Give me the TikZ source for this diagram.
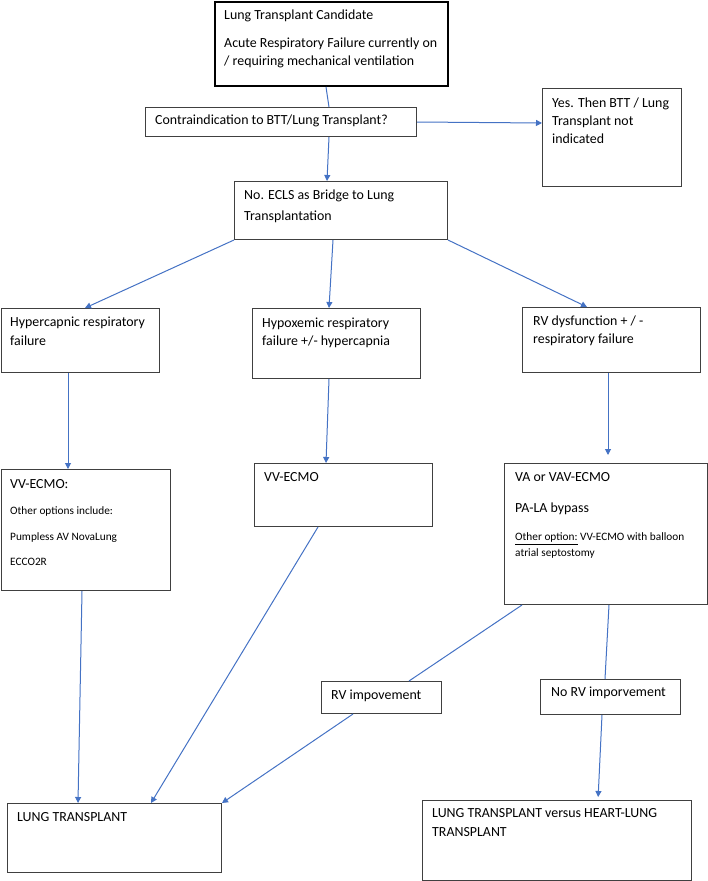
\documentclass[tikz,border=0pt]{standalone}
\usepackage{fontspec}
\setmainfont{Carlito}
\usetikzlibrary{arrows.meta}
\definecolor{arrblue}{HTML}{4472C4}
\definecolor{boxgray}{HTML}{404040}
\begin{document}
\begin{tikzpicture}[x=1pt,y=-1pt,
 box/.style={draw=boxgray, line width=1pt, anchor=north west, inner sep=0pt},
 topbox/.style={draw=black, line width=2pt, anchor=north west, inner sep=0pt},
 txt/.style={anchor=base west, inner sep=0pt, font=\fontsize{13.9}{18}\selectfont},
 sm/.style={anchor=base west, inner sep=0pt, font=\fontsize{11.3}{16}\selectfont},
 arr/.style={draw=arrblue, line width=1pt, -{Triangle[length=6pt,width=6pt]}},
 ln/.style={draw=arrblue, line width=1pt}]
\useasboundingbox (0,0) rectangle (708,881);
% boxes
\node[topbox, minimum width=233pt, minimum height=84pt] (top) at (214,1) {};
\node[box, minimum width=271pt, minimum height=29pt] (contra) at (145,107) {};
\node[box, minimum width=139pt, minimum height=98pt] (yes) at (542,88) {};
\node[box, minimum width=213pt, minimum height=58pt] (no) at (234,181) {};
\node[box, minimum width=158pt, minimum height=64pt] (hyper) at (1,308) {};
\node[box, minimum width=168pt, minimum height=70pt] (hypox) at (252,308) {};
\node[box, minimum width=178pt, minimum height=65pt] (rv) at (522,307) {};
\node[box, minimum width=169pt, minimum height=121pt] (vv) at (1,469) {};
\node[box, minimum width=178pt, minimum height=63pt] (vv2) at (254,463) {};
\node[box, minimum width=203pt, minimum height=141pt] (va) at (504,463) {};
\node[box, minimum width=120pt, minimum height=32pt] (rvimp) at (321,681) {};
\node[box, minimum width=140pt, minimum height=35pt] (norv) at (540,679) {};
\node[box, minimum width=214pt, minimum height=69pt] (lt) at (7,803) {};
\node[box, minimum width=269pt, minimum height=80pt] (lthl) at (422,800) {};
% texts
\node[txt] (t1a) at (224,19) {Lung Transplant Candidate};
\node[txt] (t1b) at (224,47.5) {Acute Respiratory Failure currently on};
\node[txt] (t1c) at (224,65.5) {/ requiring mechanical ventilation};
\node[txt] (t2) at (155,124.5) {Contraindication to BTT/Lung Transplant?};
\node[txt] (t3a) at (552,107.5) {Yes. Then BTT / Lung};
\node[txt] (t3b) at (552,125.5) {Transplant not};
\node[txt] (t3c) at (552,143.5) {indicated};
\node[txt] (t4a) at (244,199.5) {No. ECLS as Bridge to Lung};
\node[txt] (t4b) at (244,220.5) {Transplantation};
\node[txt] (t5a) at (10,326.5) {Hypercapnic respiratory};
\node[txt] (t5b) at (10,345.5) {failure};
\node[txt] (t6a) at (262,327.5) {Hypoxemic respiratory};
\node[txt] (t6b) at (262,345.5) {failure +/- hypercapnia};
\node[txt] (t7a) at (533,325.5) {RV dysfunction + / -};
\node[txt] (t7b) at (533,343.5) {respiratory failure};
\node[txt] (t8a) at (10,488.5) {VV-ECMO:};
\node[sm] (t8b) at (10,514.5) {Other options include:};
\node[sm] (t8c) at (10,540.5) {Pumpless AV NovaLung};
\node[sm] (t8d) at (10,565.5) {ECCO2R};
\node[txt] (t9) at (264,481.5) {VV-ECMO};
\node[txt] (t10a) at (515,481.5) {VA or VAV-ECMO};
\node[txt] (t10b) at (515,512.5) {PA-LA bypass};
\node[sm] (t10c) at (515,540.5) {\underline{Other option:} VV-ECMO with balloon};
\node[sm] (t10d) at (515,556.5) {atrial septostomy};
\node[txt] (t11) at (331,699.5) {RV impovement};
\node[txt] (t12) at (551,696.5) {No RV imporvement};
\node[txt] (t13) at (17,821.5) {LUNG TRANSPLANT};
\node[txt] (t14a) at (432,817.5) {LUNG TRANSPLANT versus HEART-LUNG};
\node[txt] (t14b) at (432,836.5) {TRANSPLANT};
% connectors
\draw[ln] ([xshift=112pt]top.south west) -- ([xshift=184pt]contra.north west);
\draw[arr] ([xshift=184pt]contra.south west) -- ([xshift=93pt]no.north west);
\draw[arr] (contra.east) -- ([yshift=-35pt]yes.north west);
\draw[arr] (no.south west) -- ([xshift=84pt]hyper.north west);
\draw[arr] ([xshift=99pt]no.south west) -- ([xshift=77pt]hypox.north west);
\draw[arr] (no.south east) -- ([xshift=65pt]rv.north west);
\draw[arr] ([xshift=67pt]hyper.south west) -- ([xshift=67pt]vv.north west);
\draw[arr] ([xshift=77pt]hypox.south west) -- ([xshift=72pt]vv2.north west);
\draw[arr, shorten >=8pt] ([xshift=86pt]rv.south west) -- ([xshift=104pt]va.north west);
\draw[arr] ([xshift=81pt]vv.south west) -- ([xshift=71pt]lt.north west);
\draw[arr] ([xshift=64pt]vv2.south west) -- ([xshift=144pt]lt.north west);
\draw[ln] ([xshift=18pt]va.south west) -- ([xshift=88pt]rvimp.north west);
\draw[arr] ([xshift=32pt]rvimp.south west) -- (lt.north east);
\draw[ln] ([xshift=105pt]va.south west) -- ([xshift=65pt]norv.north west);
\draw[arr, shorten >=3pt] ([xshift=62pt]norv.south west) -- ([xshift=176pt]lthl.north west);
\end{tikzpicture}
\end{document}
